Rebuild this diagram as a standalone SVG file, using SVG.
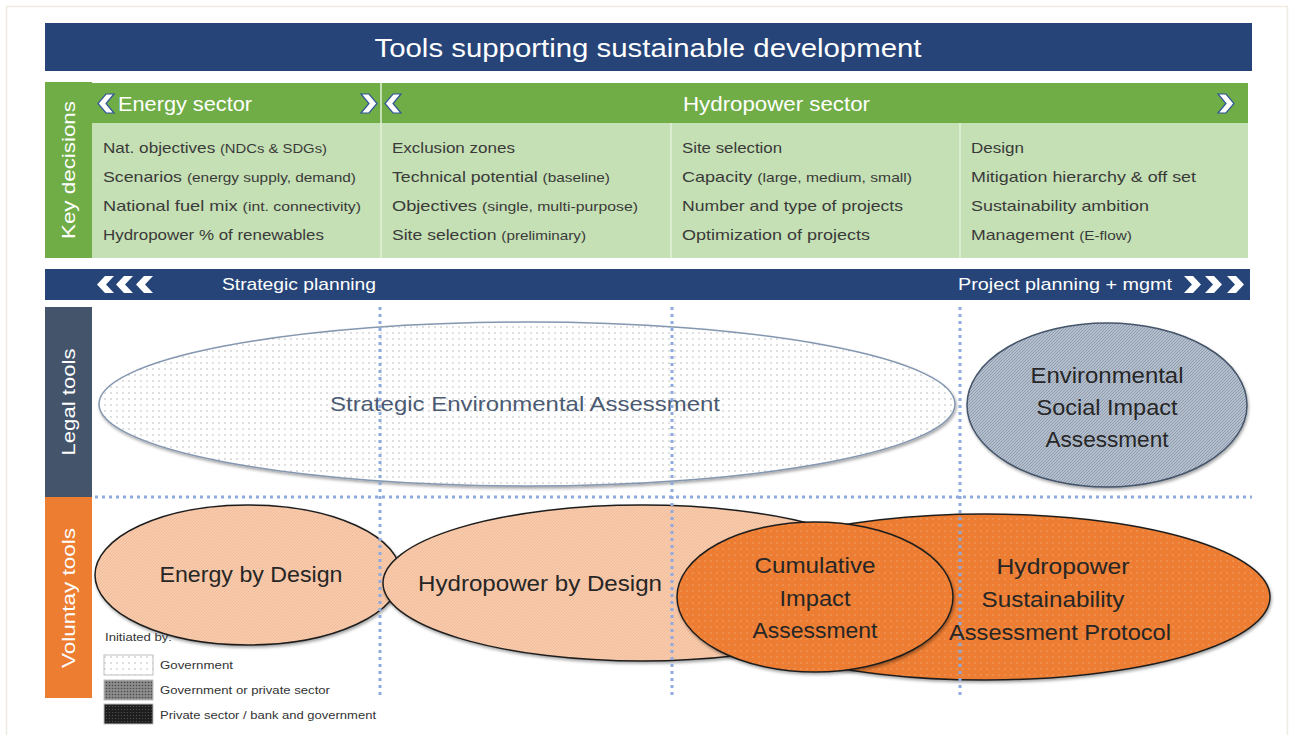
<svg xmlns="http://www.w3.org/2000/svg" xmlns:xlink="http://www.w3.org/1999/xlink" width="1290" height="735" viewBox="0 0 1290 735">
<style>
text{font-family:"Liberation Sans","Open Sans",sans-serif}
.w{fill:#ffffff}
.body{fill:#3a3a3a;font-size:15px}
.sm{font-size:13px}
.lbl{fill:#262626;font-size:22px}
.leg{fill:#333;font-size:11px}
.chevh{fill:#ffffff;stroke:#2F5597;stroke-width:1.2}
.chevb{fill:#ffffff}
.div{stroke:#E2F0D9;stroke-width:1.5}
.dot{stroke:#8FAADC;stroke-width:3;stroke-dasharray:3 4;fill:none}
</style>
<defs>
<pattern id="pDots" width="6" height="6" patternUnits="userSpaceOnUse"><rect width="6" height="6" fill="#ffffff"/><circle cx="3" cy="3" r="0.7" fill="#a8a8a8"/></pattern>
<pattern id="pGray" width="3" height="3" patternUnits="userSpaceOnUse"><rect width="3" height="3" fill="#B4BFCE"/><path d="M0,3 L3,0" stroke="#8793a6" stroke-width="0.8"/></pattern>
<pattern id="pPeach" width="3" height="3" patternUnits="userSpaceOnUse"><rect width="3" height="3" fill="#F8CBAD"/><path d="M0,3 L3,0" stroke="#efb894" stroke-width="0.8"/></pattern>
<pattern id="pOrange" width="6" height="6" patternUnits="userSpaceOnUse"><rect width="6" height="6" fill="#ED7D31"/><circle cx="3" cy="3" r="0.8" fill="#F3A26C"/></pattern>
<pattern id="pLegGray" width="3" height="3" patternUnits="userSpaceOnUse"><rect width="3" height="3" fill="#8c8c8c"/><circle cx="1.5" cy="1.5" r="0.8" fill="#4a4a4a"/></pattern>
<pattern id="pLegBlack" width="3" height="3" patternUnits="userSpaceOnUse"><rect width="3" height="3" fill="#1e1e1e"/><circle cx="1.5" cy="1.5" r="0.6" fill="#5a5a5a"/></pattern>
<filter id="sh" x="-10%" y="-10%" width="120%" height="130%"><feDropShadow dx="1" dy="2" stdDeviation="1.5" flood-color="#000" flood-opacity="0.35"/></filter>
<path id="chevL" d="M16,0 L8,9.5 L16,19 L8,19 L0,9.5 L8,0 Z"/>
<path id="chevR" d="M0,0 L8,9.5 L0,19 L8,19 L16,9.5 L8,0 Z"/>
<path id="bchevL" d="M17,0 L9,8.5 L17,17 L8,17 L0,8.5 L8,0 Z"/>
<path id="bchevR" d="M0,0 L8,8.5 L0,17 L9,17 L17,8.5 L9,0 Z"/>
</defs>
<rect x="0" y="0" width="1290" height="735" fill="#ffffff"/>
<rect x="6.5" y="6.5" width="1281" height="740" fill="none" stroke="#EEEBE0" stroke-width="1.5"/>

<g id="title">
<rect x="45" y="23" width="1207" height="48" fill="#264478"/>
<text x="648" y="57" class="w" font-size="26" text-anchor="middle" textLength="547" lengthAdjust="spacingAndGlyphs">Tools supporting sustainable development</text>
</g>

<g id="key-decisions">
<rect x="45" y="82" width="47" height="176" fill="#70AD47"/>
<rect x="92" y="83" width="1156" height="40" fill="#70AD47"/>
<rect x="92" y="123" width="1156" height="135" fill="#C5E0B4"/>
<line x1="381" y1="83" x2="381" y2="258" class="div"/>
<line x1="671" y1="123" x2="671" y2="258" class="div"/>
<line x1="960" y1="123" x2="960" y2="258" class="div"/>
<text transform="translate(75,170) rotate(-90)" class="w" font-size="19" text-anchor="middle" textLength="138" lengthAdjust="spacingAndGlyphs">Key decisions</text>
<use xlink:href="#chevL" x="98" y="94" class="chevh"/>
<text x="118" y="111" class="w" font-size="20" textLength="134" lengthAdjust="spacingAndGlyphs">Energy sector</text>
<use xlink:href="#chevR" x="361" y="94" class="chevh"/>
<use xlink:href="#chevL" x="385" y="94" class="chevh"/>
<text x="683" y="111" class="w" font-size="20" textLength="187" lengthAdjust="spacingAndGlyphs">Hydropower sector</text>
<use xlink:href="#chevR" x="1218" y="94" class="chevh"/>

<text x="103" y="153" class="body" textLength="224" lengthAdjust="spacingAndGlyphs">Nat. objectives <tspan class="sm">(NDCs &amp; SDGs)</tspan></text>
<text x="103" y="182" class="body" textLength="253" lengthAdjust="spacingAndGlyphs">Scenarios <tspan class="sm">(energy supply, demand)</tspan></text>
<text x="103" y="211" class="body" textLength="258" lengthAdjust="spacingAndGlyphs">National fuel mix <tspan class="sm">(int. connectivity)</tspan></text>
<text x="103" y="240" class="body" textLength="221" lengthAdjust="spacingAndGlyphs">Hydropower % of renewables</text>

<text x="392" y="153" class="body" textLength="123" lengthAdjust="spacingAndGlyphs">Exclusion zones</text>
<text x="392" y="182" class="body" textLength="218" lengthAdjust="spacingAndGlyphs">Technical potential <tspan class="sm">(baseline)</tspan></text>
<text x="392" y="211" class="body" textLength="246" lengthAdjust="spacingAndGlyphs">Objectives <tspan class="sm">(single, multi-purpose)</tspan></text>
<text x="392" y="240" class="body" textLength="194" lengthAdjust="spacingAndGlyphs">Site selection <tspan class="sm">(preliminary)</tspan></text>

<text x="682" y="153" class="body" textLength="100" lengthAdjust="spacingAndGlyphs">Site selection</text>
<text x="682" y="182" class="body" textLength="230" lengthAdjust="spacingAndGlyphs">Capacity <tspan class="sm">(large, medium, small)</tspan></text>
<text x="682" y="211" class="body" textLength="221" lengthAdjust="spacingAndGlyphs">Number and type of projects</text>
<text x="682" y="240" class="body" textLength="188" lengthAdjust="spacingAndGlyphs">Optimization of projects</text>

<text x="971" y="153" class="body" textLength="53" lengthAdjust="spacingAndGlyphs">Design</text>
<text x="971" y="182" class="body" textLength="225" lengthAdjust="spacingAndGlyphs">Mitigation hierarchy &amp; off set</text>
<text x="971" y="211" class="body" textLength="178" lengthAdjust="spacingAndGlyphs">Sustainability ambition</text>
<text x="971" y="240" class="body" textLength="161" lengthAdjust="spacingAndGlyphs">Management <tspan class="sm">(E-flow)</tspan></text>
</g>

<g id="planning-bar">
<rect x="45" y="269" width="1205" height="31" fill="#264478"/>
<use xlink:href="#bchevL" x="97" y="276" class="chevb"/>
<use xlink:href="#bchevL" x="116" y="276" class="chevb"/>
<use xlink:href="#bchevL" x="136" y="276" class="chevb"/>
<text x="222" y="290" class="w" font-size="17" textLength="154" lengthAdjust="spacingAndGlyphs">Strategic planning</text>
<text x="958" y="290" class="w" font-size="17" textLength="214" lengthAdjust="spacingAndGlyphs">Project planning + mgmt</text>
<use xlink:href="#bchevR" x="1184" y="276" class="chevb"/>
<use xlink:href="#bchevR" x="1205" y="276" class="chevb"/>
<use xlink:href="#bchevR" x="1227" y="276" class="chevb"/>
</g>

<g id="legal-tools">
<rect x="45" y="307" width="47" height="190" fill="#44546A"/>
<text transform="translate(75,402) rotate(-90)" class="w" font-size="19" text-anchor="middle" textLength="107" lengthAdjust="spacingAndGlyphs">Legal tools</text>
</g>
<g id="voluntary-tools">
<rect x="45" y="497" width="47" height="201" fill="#ED7D31"/>
<text transform="translate(75,598) rotate(-90)" class="w" font-size="19" text-anchor="middle" textLength="140" lengthAdjust="spacingAndGlyphs">Voluntay tools</text>
</g>

<g id="sea">
<ellipse cx="527" cy="404" rx="428" ry="82" fill="url(#pDots)" stroke="#8497B0" stroke-width="1.5" filter="url(#sh)"/>
<text x="525" y="411" font-size="21" fill="#4a5a72" text-anchor="middle" textLength="390" lengthAdjust="spacingAndGlyphs">Strategic Environmental Assessment</text>
</g>

<g id="esia">
<ellipse cx="1107" cy="405" rx="140" ry="82" fill="url(#pGray)" stroke="#44546A" stroke-width="1.5" filter="url(#sh)"/>
<text x="1107" y="383" class="lbl" text-anchor="middle" textLength="153" lengthAdjust="spacingAndGlyphs">Environmental</text>
<text x="1107" y="415" class="lbl" text-anchor="middle" textLength="141" lengthAdjust="spacingAndGlyphs">Social Impact</text>
<text x="1107" y="447" class="lbl" text-anchor="middle" textLength="123" lengthAdjust="spacingAndGlyphs">Assessment</text>
</g>

<g id="energy-by-design">
<ellipse cx="248" cy="575" rx="153" ry="70" fill="url(#pPeach)" stroke="#1f1f1f" stroke-width="1.5" filter="url(#sh)"/>
<text x="251" y="582" class="lbl" text-anchor="middle" textLength="183" lengthAdjust="spacingAndGlyphs">Energy by Design</text>
</g>

<g id="hydropower-by-design">
<ellipse cx="642" cy="583" rx="259" ry="78" fill="url(#pPeach)" stroke="#1f1f1f" stroke-width="1.5" filter="url(#sh)"/>
<text x="540" y="591" class="lbl" text-anchor="middle" textLength="244" lengthAdjust="spacingAndGlyphs">Hydropower by Design</text>
</g>

<g id="hsap">
<ellipse cx="985" cy="597" rx="285" ry="83" fill="url(#pOrange)" stroke="#1f1f1f" stroke-width="1.5" filter="url(#sh)"/>
</g>

<g id="cia">
<ellipse cx="815" cy="597" rx="138" ry="75" fill="url(#pOrange)" stroke="#1f1f1f" stroke-width="1.5" filter="url(#sh)"/>
<text x="815" y="573" class="lbl" text-anchor="middle" textLength="121" lengthAdjust="spacingAndGlyphs">Cumulative</text>
<text x="815" y="606" class="lbl" text-anchor="middle" textLength="71" lengthAdjust="spacingAndGlyphs">Impact</text>
<text x="815" y="638" class="lbl" text-anchor="middle" textLength="125" lengthAdjust="spacingAndGlyphs">Assessment</text>
</g>

<g id="connectors">
<line x1="95" y1="497" x2="1252" y2="497" class="dot"/>
<line x1="380" y1="307" x2="380" y2="698" class="dot"/>
<line x1="672" y1="307" x2="672" y2="698" class="dot"/>
<line x1="960" y1="307" x2="960" y2="698" class="dot"/>
</g>

<g id="hsap-label">
<text x="1063" y="574" class="lbl" text-anchor="middle" textLength="133" lengthAdjust="spacingAndGlyphs">Hydropower</text>
<text x="1053" y="607" class="lbl" text-anchor="middle" textLength="143" lengthAdjust="spacingAndGlyphs">Sustainability</text>
<text x="1060" y="640" class="lbl" text-anchor="middle" textLength="222" lengthAdjust="spacingAndGlyphs">Assessment Protocol</text>
</g>

<g id="legend">
<text x="105" y="641" class="leg" textLength="67" lengthAdjust="spacingAndGlyphs">Initiated by:</text>
<rect x="104" y="655" width="49" height="20" fill="url(#pDots)" stroke="#bfbfbf" stroke-width="1"/>
<text x="160" y="669" class="leg" textLength="73" lengthAdjust="spacingAndGlyphs">Government</text>
<rect x="104" y="680" width="49" height="20" fill="url(#pLegGray)" stroke="#bfbfbf" stroke-width="1"/>
<text x="160" y="694" class="leg" textLength="170" lengthAdjust="spacingAndGlyphs">Government or private sector</text>
<rect x="104" y="704" width="49" height="20" fill="url(#pLegBlack)" stroke="#bfbfbf" stroke-width="1"/>
<text x="160" y="719" class="leg" textLength="216" lengthAdjust="spacingAndGlyphs">Private sector / bank and government</text>
</g>
</svg>
